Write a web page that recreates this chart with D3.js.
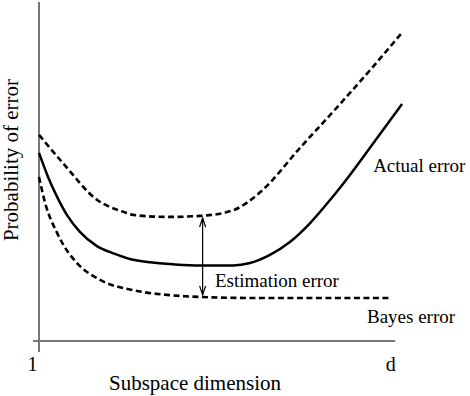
<!DOCTYPE html>
<html>
<head>
<meta charset="utf-8">
<script src="https://cdn.jsdelivr.net/npm/d3@7"></script>
<style>
  body { margin: 0; background: #fff; }
  svg text { font-family: "Liberation Serif", "Times New Roman", serif !important; fill: #000; }
</style>
</head>
<body>
<div id="chart"></div>
<script>
// x: subspace dimension (0 = "1", ~97 = "d"), y: probability of error (arbitrary units)
var actualX   = [0, 2.5, 5, 7.7, 11.3, 16, 21, 25.1, 30.7, 37.6, 44.5, 53.6, 58.3, 63.8, 69.3, 74.9, 80.4, 85.9, 92.8, 100.3]
var actualY   = [0.555, 0.484, 0.425, 0.372, 0.322, 0.280, 0.257, 0.242, 0.232, 0.226, 0.223, 0.223, 0.230, 0.254, 0.292, 0.348, 0.416, 0.490, 0.590, 0.699]

var upperX    = [0, 6.6, 16.1, 23.3, 26, 35.5, 44.6, 53.7, 61.2, 72.3, 83.4, 91.7, 100]
var upperY    = [0.608, 0.525, 0.416, 0.381, 0.372, 0.366, 0.369, 0.386, 0.440, 0.572, 0.702, 0.802, 0.906]

var bayesX    = [0, 1.7, 5, 6.6, 10.5, 16.9, 26, 35.4, 44.5, 58.3, 97]
var bayesY    = [0.484, 0.407, 0.319, 0.286, 0.230, 0.180, 0.150, 0.136, 0.130, 0.127, 0.127]

var tickPos    = [0, 97]
var tickLabels = ["1", "d"]

var arrowX    = 45.2
var arrowSpan = [0.363, 0.136]

var labelText = ["Actual error", "Estimation error", "Bayes error"]
var labelX    = [92.3, 48.6, 90.6]
var labelY    = [0.499, 0.159, 0.053]

var width = 470, height = 396
var serif = "Liberation Serif, Times New Roman, serif"

var svg = d3.select("#chart")
  .append("svg")
    .attr("width", width)
    .attr("height", height)
    .attr("font-family", serif)

var x = d3.scaleLinear().domain([0, 100]).range([39, 401])
var y = d3.scaleLinear().domain([0, 1]).range([341, 2])

function pts(xs, ys) {
  return xs.map(function (d, i) { return [d, ys[i]] })
}

var line = d3.line()
  .x(function (d) { return x(d[0]) })
  .y(function (d) { return y(d[1]) })
  .curve(d3.curveMonotoneX)

// axes (plain grey lines, running a bit past the origin)
svg.append("line")
  .attr("x1", x(0)).attr("x2", x(0))
  .attr("y1", y(1)).attr("y2", y(0) + 11)
  .style("stroke", "#777").style("stroke-width", 2)

svg.append("line")
  .attr("x1", x(0) - 6).attr("x2", x(98.4))
  .attr("y1", y(0)).attr("y2", y(0))
  .style("stroke", "#777").style("stroke-width", 2)

var xAxis = svg.append("g")
  .attr("transform", "translate(0," + y(0) + ")")
  .call(d3.axisBottom(x)
    .tickValues(tickPos)
    .tickFormat(function (d, i) { return tickLabels[i] })
    .tickSize(0)
    .tickPadding(16))
xAxis.attr("font-family", serif).attr("font-size", 20)
xAxis.select(".domain").remove()
xAxis.selectAll("text")
  .attr("font-family", serif)
  .attr("dx", function (d, i) { return i == 0 ? -7 : 0 })

// curves
svg.append("path")
  .attr("d", line(pts(upperX, upperY)))
  .style("fill", "none").style("stroke", "#000")
  .style("stroke-width", 2.6).style("stroke-dasharray", "6,3.5")

svg.append("path")
  .attr("d", line(pts(bayesX, bayesY)))
  .style("fill", "none").style("stroke", "#000")
  .style("stroke-width", 2.6).style("stroke-dasharray", "6,3.5")

svg.append("path")
  .attr("d", line(pts(actualX, actualY)))
  .style("fill", "none").style("stroke", "#000")
  .style("stroke-width", 2.5)

// double arrow for the estimation error
var ax = x(arrowX), ay1 = y(arrowSpan[0]), ay2 = y(arrowSpan[1])
svg.append("line")
  .attr("x1", ax).attr("x2", ax).attr("y1", ay1).attr("y2", ay2)
  .style("stroke", "#000").style("stroke-width", 1.2)
svg.append("path")
  .attr("d", "M" + (ax - 3) + "," + (ay1 + 9) + "L" + ax + "," + ay1 + "L" + (ax + 3) + "," + (ay1 + 9))
  .style("fill", "none").style("stroke", "#000").style("stroke-width", 1.2)
svg.append("path")
  .attr("d", "M" + (ax - 3) + "," + (ay2 - 9) + "L" + ax + "," + ay2 + "L" + (ax + 3) + "," + (ay2 - 9))
  .style("fill", "none").style("stroke", "#000").style("stroke-width", 1.2)

// curve labels
svg.selectAll(".lbl")
  .data(labelText)
  .enter()
  .append("text")
    .attr("class", "lbl")
    .attr("x", function (d, i) { return x(labelX[i]) })
    .attr("y", function (d, i) { return y(labelY[i]) })
    .attr("font-family", serif)
    .attr("font-size", "19px")
    .text(function (d) { return d })

// axis titles
svg.append("text")
  .attr("x", 195).attr("y", 390)
  .attr("text-anchor", "middle")
  .attr("font-family", serif)
  .attr("font-size", "21px")
  .text("Subspace dimension")

svg.append("text")
  .attr("transform", "translate(18,160) rotate(-90)")
  .attr("text-anchor", "middle")
  .attr("font-family", serif)
  .attr("font-size", "21px")
  .text("Probability of error")
</script>
</body>
</html>
